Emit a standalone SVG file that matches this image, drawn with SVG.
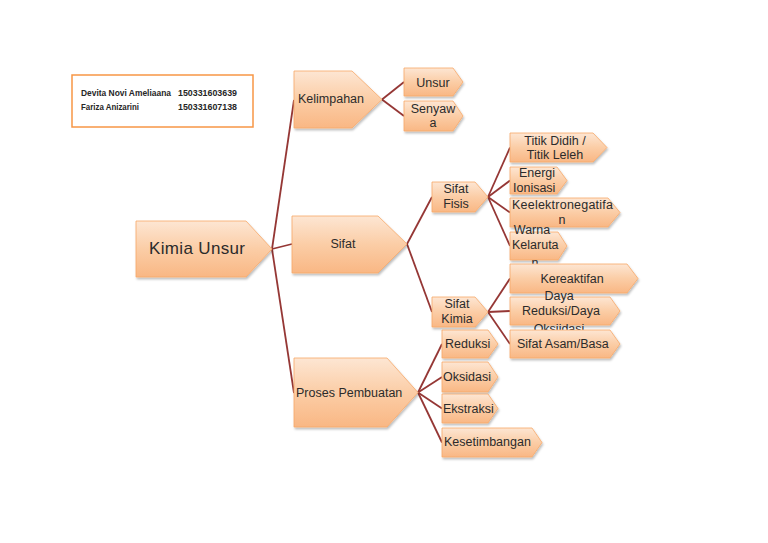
<svg xmlns="http://www.w3.org/2000/svg" width="768" height="543" viewBox="0 0 768 543">
<defs>
<linearGradient id="g" x1="0" y1="0" x2="0" y2="1">
<stop offset="0" stop-color="#FDE6D3"/>
<stop offset="0.5" stop-color="#FBCDA6"/>
<stop offset="1" stop-color="#F9B784"/>
</linearGradient>
<filter id="sh" x="-10%" y="-10%" width="130%" height="140%">
<feDropShadow dx="1" dy="2" stdDeviation="1.2" flood-color="#000" flood-opacity="0.25"/>
</filter>
<style>
.n{fill:url(#g);stroke:#F7A868;stroke-width:0.8;filter:url(#sh)}
.t{font-family:"Liberation Sans",Arial,sans-serif;font-size:12.5px;fill:#2b2b2b}
.c{text-anchor:middle}
.e line{stroke:#953735;stroke-width:1.8;fill:none}
.i{font-family:"Liberation Sans",Arial,sans-serif;font-size:8.5px;font-weight:bold;fill:#262626}
</style>
</defs>
<rect width="768" height="543" fill="#fff"/>
<g id="info">
<rect x="72" y="75" width="181" height="52" fill="#fff" stroke="#F79646" stroke-width="1.5"/>
<text class="i" x="81" y="96" textLength="90" lengthAdjust="spacingAndGlyphs">Devita Novi Ameliaana</text>
<text class="i" x="178" y="96" textLength="59" lengthAdjust="spacingAndGlyphs">150331603639</text>
<text class="i" x="81" y="110" textLength="58" lengthAdjust="spacingAndGlyphs">Fariza Anizarini</text>
<text class="i" x="178" y="110" textLength="59" lengthAdjust="spacingAndGlyphs">150331607138</text>
</g>
<g id="connectors" class="e">
<line x1="272" y1="249" x2="294" y2="100"/>
<line x1="272" y1="249" x2="292" y2="244"/>
<line x1="272" y1="249" x2="294" y2="393"/>
<line x1="382" y1="99.5" x2="404" y2="82"/>
<line x1="382" y1="99.5" x2="404" y2="116"/>
<line x1="407" y1="244" x2="432" y2="197"/>
<line x1="407" y1="244" x2="432" y2="312"/>
<line x1="488" y1="197" x2="510" y2="147.5"/>
<line x1="488" y1="197" x2="510" y2="180.5"/>
<line x1="488" y1="197" x2="510" y2="212.5"/>
<line x1="488" y1="197" x2="510" y2="246"/>
<line x1="488" y1="312" x2="510" y2="278.5"/>
<line x1="488" y1="312" x2="510" y2="311"/>
<line x1="488" y1="312" x2="510" y2="344"/>
<line x1="418" y1="392.5" x2="442" y2="344"/>
<line x1="418" y1="392.5" x2="442" y2="377"/>
<line x1="418" y1="392.5" x2="442" y2="408.5"/>
<line x1="418" y1="392.5" x2="442" y2="442.5"/>
</g>
<g id="kimia-unsur">
<polygon class="n" points="136,221 246,221 272,249 246,277 136,277"/>
<text class="t" x="149" y="254" style="font-size:17px" textLength="96" lengthAdjust="spacing">Kimia Unsur</text>
</g>
<g id="kelimpahan">
<polygon class="n" points="294,71 352,71 382,99.5 352,128 294,128"/>
<text class="t" x="298" y="103">Kelimpahan</text>
</g>
<g id="unsur">
<polygon class="n" points="404,68 453,68 463,82 453,96 404,96"/>
<text class="t c" x="433" y="87">Unsur</text>
</g>
<g id="senyawa">
<polygon class="n" points="404,101 453,101 463,116 453,131 404,131"/>
<text class="t c" x="433" y="113">Senyaw</text>
<text class="t c" x="433" y="127">a</text>
</g>
<g id="sifat">
<polygon class="n" points="292,216 378,216 407,244 378,273 292,273"/>
<text class="t c" x="343" y="248">Sifat</text>
</g>
<g id="sifat-fisis">
<polygon class="n" points="432,182 475,182 488,197 475,212 432,212"/>
<text class="t c" x="456" y="193">Sifat</text>
<text class="t c" x="456" y="208">Fisis</text>
</g>
<g id="titik">
<polygon class="n" points="510,133 593,133 607,147.5 593,162 510,162"/>
<text class="t c" x="555" y="145">Titik Didih /</text>
<text class="t c" x="555" y="159">Titik Leleh</text>
</g>
<g id="energi">
<polygon class="n" points="510,167 557,167 567,180.5 557,194 510,194"/>
<text class="t c" x="537" y="177">Energi</text>
<text class="t" x="513" y="192">Ionisasi</text>
</g>
<g id="keelektronegatifan">
<polygon class="n" points="510,198 608,198 620,212.5 608,227 510,227"/>
<text class="t" x="512" y="209" textLength="101" lengthAdjust="spacing">Keelektronegatifa</text>
<text class="t c" x="562" y="224">n</text>
</g>
<g id="warna">
<polygon class="n" points="510,232 558,232 567,246 558,260 510,260"/>
<text class="t c" x="532" y="234">Warna</text>
<text class="t" x="512" y="249">Kelaruta</text>
<text class="t c" x="535" y="267">n</text>
</g>
<g id="kereaktifan">
<polygon class="n" points="510,264 627,264 638,278.5 627,293 510,293"/>
<text class="t c" x="572" y="283">Kereaktifan</text>
</g>
<g id="daya">
<polygon class="n" points="510,297 610,297 620,311 610,325 510,325"/>
<text class="t c" x="559" y="300">Daya</text>
<text class="t c" x="561" y="315">Reduksi/Daya</text>
<text class="t c" x="559" y="333">Oksiidasi</text>
</g>
<g id="sifat-asam-basa">
<polygon class="n" points="510,330 610,330 620,344 610,358 510,358"/>
<text class="t" x="517" y="348">Sifat Asam/Basa</text>
</g>
<g id="sifat-kimia">
<polygon class="n" points="432,297 475,297 488,312 475,327 432,327"/>
<text class="t c" x="457" y="308">Sifat</text>
<text class="t c" x="457" y="323">Kimia</text>
</g>
<g id="proses">
<polygon class="n" points="294,358 387,358 418,392.5 387,427 294,427"/>
<text class="t" x="296" y="397">Proses Pembuatan</text>
</g>
<g id="reduksi">
<polygon class="n" points="442,330 488,330 498,344 488,358 442,358"/>
<text class="t" x="445" y="348">Reduksi</text>
</g>
<g id="oksidasi">
<polygon class="n" points="442,362 488,362 498,377 488,392 442,392"/>
<text class="t" x="443" y="381">Oksidasi</text>
</g>
<g id="ekstraksi">
<polygon class="n" points="442,394 488,394 498,408.5 488,423 442,423"/>
<text class="t" x="443" y="413">Ekstraksi</text>
</g>
<g id="kesetimbangan">
<polygon class="n" points="442,428 532,428 542,442.5 532,457 442,457"/>
<text class="t" x="444" y="446">Kesetimbangan</text>
</g>
</svg>
